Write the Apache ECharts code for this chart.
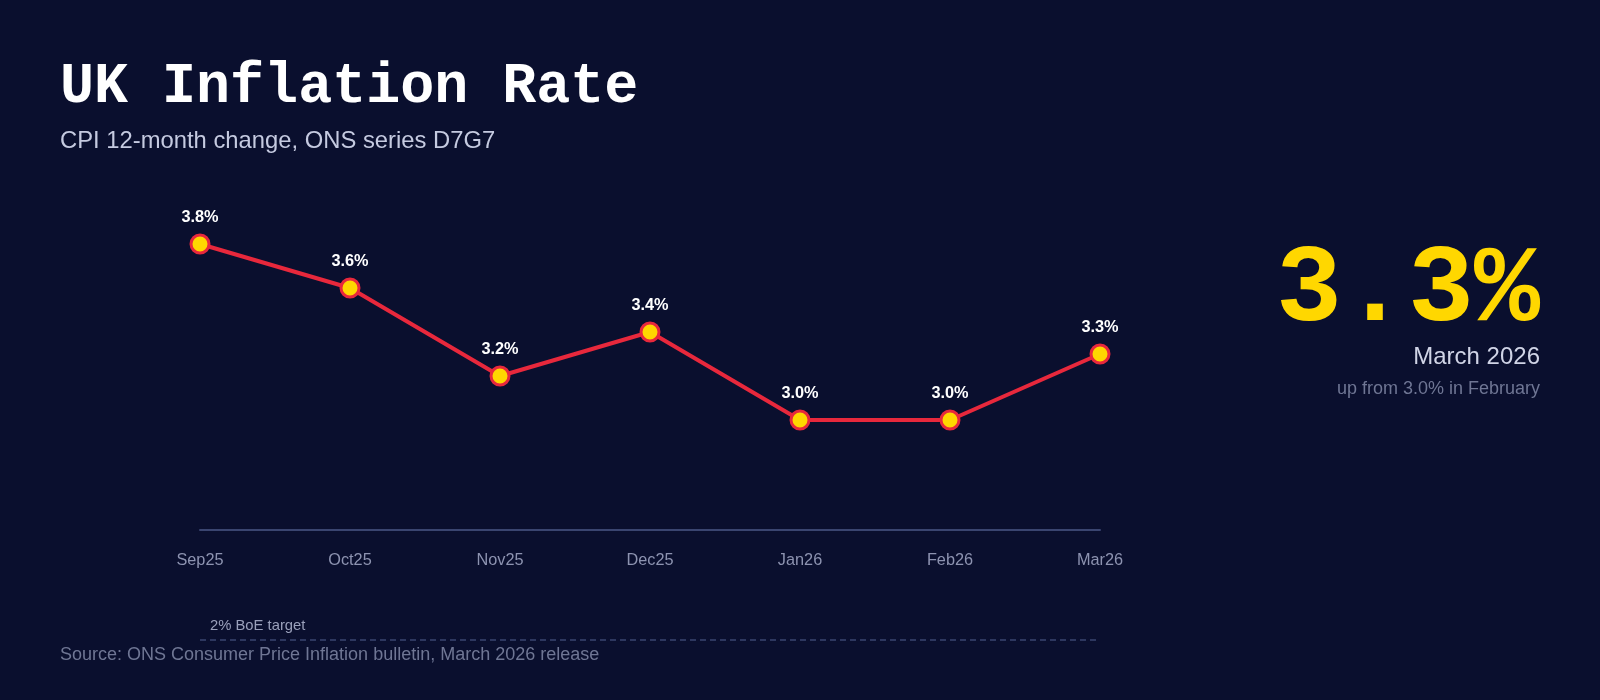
<!DOCTYPE html>
<html>
<head>
<meta charset="utf-8">
<script src="https://cdn.jsdelivr.net/npm/echarts@6/dist/echarts.min.js"></script>
<style>
html,body{margin:0;padding:0;background:#0a0f2e;}
#chart{width:1600px;height:700px;}
</style>
</head>
<body>
<div id="chart"></div>
<script>
const months = ['Sep25','Oct25','Nov25','Dec25','Jan26','Feb26','Mar26'];
const cpiRate = [3.8, 3.6, 3.2, 3.4, 3.0, 3.0, 3.3];
const targetRate = 2.0;
const latestValue = '3.3%';
const latestMonth = 'March 2026';
const latestNote = 'up from 3.0% in February';

const chart = echarts.init(document.getElementById('chart'));
const option = {
  backgroundColor: '#0a0f2e',
  animation: false,
  title: [
    { text: 'UK Inflation Rate', left: 60, top: 59, padding: 0,
      textStyle: { fontFamily: 'Liberation Mono', fontWeight: 'bold', fontSize: 56.7, color: '#ffffff' } },
    { text: 'CPI 12-month change, ONS series D7G7', left: 60, top: 129, padding: 0,
      textStyle: { fontFamily: 'Liberation Sans', fontWeight: 'normal', fontSize: 23.8, color: '#c5cae0' } },
    { text: latestValue, right: 60, top: 237, padding: 0,
      textStyle: { fontFamily: 'Liberation Mono', fontWeight: 'bold', fontSize: 110, color: '#ffd700' } },
    { text: latestMonth, right: 60, top: 345, padding: 0,
      textStyle: { fontFamily: 'Liberation Sans', fontWeight: 'normal', fontSize: 24, color: '#d0d4e6' } },
    { text: latestNote, right: 60, top: 380, padding: 0,
      textStyle: { fontFamily: 'Liberation Sans', fontWeight: 'normal', fontSize: 18, color: '#6f7694' } },
    { text: 'Source: ONS Consumer Price Inflation bulletin, March 2026 release', left: 60, top: 646, padding: 0,
      textStyle: { fontFamily: 'Liberation Sans', fontWeight: 'normal', fontSize: 18, color: '#6f7694' } }
  ],
  grid: [
    { left: 200, right: 500, top: 200, bottom: 170 },
    { left: 200, right: 500, top: 200, bottom: 60 }
  ],
  xAxis: [
    { type: 'category', gridIndex: 0, data: months, boundaryGap: false,
      axisLine: { show: true, lineStyle: { color: '#3a4570', width: 2 } },
      axisTick: { show: false },
      axisLabel: { margin: 23, fontFamily: 'Liberation Sans', fontSize: 16.3, color: '#8d93b0' },
      splitLine: { show: false } },
    { type: 'category', gridIndex: 1, data: months, boundaryGap: false, show: false }
  ],
  yAxis: [
    { type: 'value', gridIndex: 0, min: 2.5, max: 4.0, show: false, splitLine: { show: false } },
    { type: 'value', gridIndex: 1, min: 2.0, max: 4.0, show: false, splitLine: { show: false } }
  ],
  series: [
    {
      type: 'line', xAxisIndex: 0, yAxisIndex: 0, data: cpiRate,
      lineStyle: { color: '#e8283c', width: 4 },
      itemStyle: { color: '#ffd700', borderColor: '#e8283c', borderWidth: 3 },
      symbol: 'circle', symbolSize: 18, showSymbol: true,
      label: { show: true, position: 'top', distance: 8,
        formatter: p => p.value.toFixed(1) + '%',
        fontFamily: 'Liberation Sans', fontWeight: 'bold', fontSize: 16.3, color: '#ffffff' },
      z: 3
    },
    {
      type: 'line', xAxisIndex: 1, yAxisIndex: 1, data: months.map(() => '-'),
      showSymbol: false, silent: true,
      markLine: {
        silent: true, symbol: 'none',
        lineStyle: { color: '#3a4570', type: [6, 4], width: 1.5 },
        label: { show: true, position: 'insideStartTop', formatter: '2% BoE target',
          fontFamily: 'Liberation Sans', fontSize: 14.8, color: '#9aa0bb', distance: [10, 7] },
        data: [{ yAxis: targetRate }]
      }
    }
  ]
};
chart.setOption(option);
</script>
</body>
</html>
